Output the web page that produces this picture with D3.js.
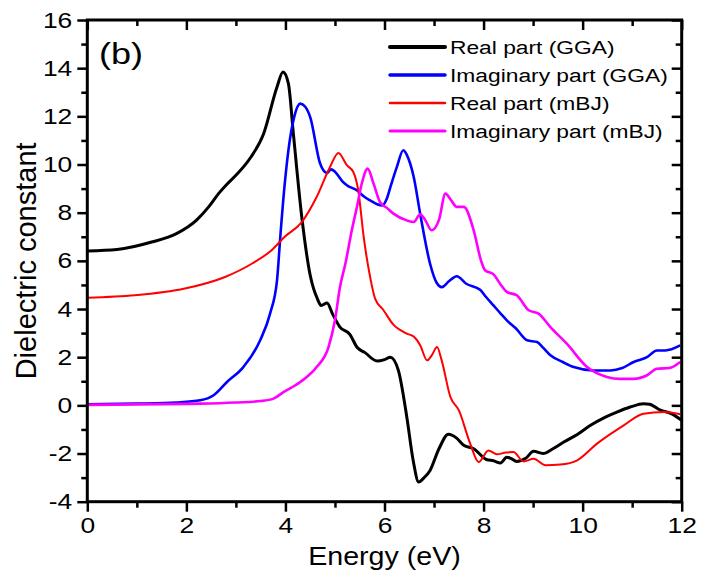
<!DOCTYPE html>
<html><head><meta charset="utf-8">
<script src="https://cdn.jsdelivr.net/npm/d3@7"></script>
<style>body{margin:0;background:#fff}svg{display:block}</style>
</head><body>
<script>
// ---- data ----
const xTicks = [0, 2, 4, 6, 8, 10, 12];
const xMinorTicks = [1, 3, 5, 7, 9, 11];
const yTicks = [-4, -2, 0, 2, 4, 6, 8, 10, 12, 14, 16];
const yMinorTicks = [-3, -1, 1, 3, 5, 7, 9, 11, 13, 15];
const seriesNames = ["Real part (GGA)", "Imaginary part (GGA)", "Real part (mBJ)", "Imaginary part (mBJ)"];
const seriesColors = ["#000000", "#0000ff", "#ff0000", "#ff00ff"];

const realGGA_E = [0, 0.6, 1.3, 1.8, 2.2, 2.45, 2.65, 2.8, 3.0, 3.3, 3.56, 3.83, 3.95, 4.06, 4.16, 4.33, 4.5, 4.65, 4.72, 4.84, 4.95, 5.1, 5.3, 5.45, 5.6, 5.85, 6.0, 6.12, 6.28, 6.45, 6.58, 6.69, 6.8, 6.92, 7.1, 7.29, 7.45, 7.6, 7.8, 8.07, 8.2, 8.34, 8.47, 8.55, 8.67, 8.85, 9.01, 9.2, 9.4, 9.62, 9.9, 10.16, 10.45, 10.69, 10.96, 11.23, 11.35, 11.57, 11.8, 12];
const realGGA_V = [6.41, 6.47, 6.78, 7.13, 7.68, 8.24, 8.79, 9.14, 9.55, 10.3, 11.28, 13.22, 13.84, 13.36, 11.28, 7.82, 5.4, 4.4, 4.15, 4.25, 3.8, 3.25, 2.95, 2.4, 2.2, 1.84, 1.9, 2.0, 1.45, -0.48, -2.3, -3.18, -3.0, -2.7, -1.8, -1.2, -1.35, -1.66, -1.8, -2.26, -2.3, -2.39, -2.15, -2.2, -2.33, -2.2, -1.91, -2.0, -1.8, -1.52, -1.2, -0.83, -0.5, -0.28, -0.07, 0.07, 0.05, -0.2, -0.35, -0.62];

const imagGGA_E = [0, 1, 1.8, 2.28, 2.55, 2.82, 3.15, 3.49, 3.69, 3.83, 3.9, 3.98, 4.06, 4.18, 4.3, 4.4, 4.5, 4.7, 4.84, 4.92, 5.0, 5.15, 5.24, 5.44, 5.6, 5.71, 5.85, 5.95, 6.05, 6.12, 6.25, 6.38, 6.45, 6.59, 6.72, 6.92, 7.05, 7.16, 7.3, 7.46, 7.65, 7.93, 8.05, 8.2, 8.35, 8.47, 8.65, 8.88, 9.08, 9.2, 9.35, 9.6, 9.82, 10.22, 10.56, 10.8, 11.03, 11.3, 11.5, 11.67, 11.97];
const imagGGA_V = [0.04, 0.07, 0.12, 0.21, 0.42, 0.97, 1.59, 2.7, 3.81, 5.19, 7.1, 9.07, 10.59, 12.0, 12.53, 12.4, 11.97, 10.04, 9.65, 9.8, 9.7, 9.3, 9.14, 8.93, 8.65, 8.51, 8.35, 8.3, 8.6, 9.07, 9.9, 10.59, 10.4, 9.48, 7.96, 5.88, 5.1, 4.91, 5.15, 5.36, 5.05, 4.8, 4.5, 4.15, 3.8, 3.53, 3.2, 2.7, 2.63, 2.4, 2.08, 1.8, 1.59, 1.45, 1.45, 1.55, 1.8, 2.0, 2.28, 2.28, 2.49];

const realMBJ_E = [0, 0.96, 1.97, 2.78, 3.32, 3.72, 3.98, 4.33, 4.63, 4.9, 5.07, 5.24, 5.37, 5.47, 5.58, 5.71, 5.81, 5.98, 6.18, 6.45, 6.6, 6.72, 6.86, 6.96, 7.06, 7.15, 7.33, 7.5, 7.73, 7.9, 8.1, 8.27, 8.45, 8.6, 8.81, 9.01, 9.25, 9.55, 9.89, 10.29, 10.83, 11.23, 11.64, 11.97];
const realMBJ_V = [4.47, 4.57, 4.85, 5.33, 5.88, 6.44, 6.99, 7.61, 8.65, 9.9, 10.48, 9.97, 9.69, 8.93, 6.99, 5.33, 4.43, 3.95, 3.35, 2.98, 2.84, 2.5, 1.87, 2.1, 2.42, 1.9, 0.35, -0.2, -1.59, -2.35, -1.87, -2.03, -1.96, -1.94, -2.33, -2.22, -2.49, -2.46, -2.28, -1.59, -0.83, -0.35, -0.28, -0.37];

const imagMBJ_E = [0, 1, 2, 2.28, 3, 3.5, 3.76, 3.96, 4.3, 4.63, 4.87, 5.0, 5.1, 5.21, 5.34, 5.45, 5.54, 5.66, 5.78, 5.91, 6.05, 6.18, 6.45, 6.59, 6.72, 6.82, 6.95, 7.1, 7.23, 7.35, 7.46, 7.6, 7.8, 7.95, 8.03, 8.2, 8.35, 8.47, 8.67, 8.91, 9.11, 9.35, 9.68, 10.09, 10.49, 10.75, 11.03, 11.3, 11.5, 11.75, 11.97];
const imagMBJ_V = [0.02, 0.04, 0.06, 0.07, 0.12, 0.18, 0.28, 0.55, 0.97, 1.59, 2.42, 3.53, 4.9, 5.88, 7.27, 8.3, 9.2, 9.83, 9.2, 8.44, 8.2, 7.96, 7.68, 7.61, 7.93, 7.7, 7.27, 7.7, 8.79, 8.5, 8.24, 8.24, 7.27, 6.0, 5.61, 5.44, 5.0, 4.71, 4.57, 3.95, 3.81, 3.25, 2.56, 1.59, 1.18, 1.1, 1.1, 1.25, 1.52, 1.55, 1.8];

// ---- layout ----
const W = 701, H = 575;
const L = 87.3, R = 681.7, T = 20, B = 501.7;
const FONT = "'Liberation Sans', Arial, sans-serif";
const SX = 1.2; // horizontal text stretch seen in the reference

const svg = d3.select("body").append("svg").attr("width", W).attr("height", H);
const x = d3.scaleLinear().domain([0, 12]).range([L, R]);
const y = d3.scaleLinear().domain([-4, 16]).range([B, T]);

const series = [
  {E: realGGA_E, V: realGGA_V, w: 3},
  {E: imagGGA_E, V: imagGGA_V, w: 2.6},
  {E: realMBJ_E, V: realMBJ_V, w: 2},
  {E: imagMBJ_E, V: imagMBJ_V, w: 2.6}
];
const line = d3.line().x(d => x(d[0])).y(d => y(d[1])).curve(d3.curveMonotoneX);
const plot = svg.append("g");
series.forEach((s, i) => {
  plot.append("path")
    .datum(s.E.map((e, k) => [e, s.V[k]]))
    .attr("d", line).attr("fill", "none")
    .attr("stroke", seriesColors[i]).attr("stroke-width", s.w)
    .attr("stroke-linejoin", "round");
});

function styleAxis(g, fs) {
  g.select(".domain").remove();
  g.selectAll(".tick line").attr("stroke", "#000").attr("stroke-width", 2.5);
  g.selectAll(".tick text").attr("fill", "#000").style("font-family", FONT).style("font-size", fs + "px");
}
function stretchTickText(g) {
  g.selectAll(".tick text").each(function() {
    const t = d3.select(this);
    const tx = +t.attr("x") || 0, ty = +t.attr("y") || 0;
    t.attr("x", 0).attr("y", 0).attr("transform", `translate(${tx},${ty}) scale(${SX},1)`);
  });
}
// bottom
const gb = svg.append("g").attr("transform", `translate(0,${B})`)
  .call(d3.axisBottom(x).tickValues(xTicks).tickSize(10).tickPadding(6).tickFormat(d3.format("d")));
styleAxis(gb, 22); stretchTickText(gb);
const gbm = svg.append("g").attr("transform", `translate(0,${B})`)
  .call(d3.axisBottom(x).tickValues(xMinorTicks).tickSize(6).tickFormat(""));
styleAxis(gbm, 22);
// top
const gt = svg.append("g").attr("transform", `translate(0,${T})`)
  .call(d3.axisTop(x).tickValues(xTicks).tickSize(-10).tickFormat(""));
styleAxis(gt, 22);
const gtm = svg.append("g").attr("transform", `translate(0,${T})`)
  .call(d3.axisTop(x).tickValues(xMinorTicks).tickSize(-6).tickFormat(""));
styleAxis(gtm, 22);
// left
const gl = svg.append("g").attr("transform", `translate(${L},0)`)
  .call(d3.axisLeft(y).tickValues(yTicks).tickSize(10).tickPadding(5).tickFormat(d => d < 0 ? "-" + Math.abs(d) : String(d)));
styleAxis(gl, 22); stretchTickText(gl);
const glm = svg.append("g").attr("transform", `translate(${L},0)`)
  .call(d3.axisLeft(y).tickValues(yMinorTicks).tickSize(6).tickFormat(""));
styleAxis(glm, 22);
// right
const gr = svg.append("g").attr("transform", `translate(${R},0)`)
  .call(d3.axisRight(y).tickValues(yTicks).tickSize(-10).tickFormat(""));
styleAxis(gr, 22);
const grm = svg.append("g").attr("transform", `translate(${R},0)`)
  .call(d3.axisRight(y).tickValues(yMinorTicks).tickSize(-6).tickFormat(""));
styleAxis(grm, 22);

// frame
svg.append("rect").attr("x", L).attr("y", T).attr("width", R - L).attr("height", B - T)
  .attr("fill", "none").attr("stroke", "#000").attr("stroke-width", 3);

// axis titles
svg.append("text").attr("transform", `translate(${(L + R) / 2},565) scale(1.1,1)`).attr("text-anchor", "middle")
  .style("font-family", FONT).style("font-size", "26px").text("Energy (eV)");
svg.append("text").attr("transform", `translate(36,${(T + B) / 2}) rotate(-90)`).attr("text-anchor", "middle")
  .style("font-family", FONT).style("font-size", "29px").text("Dielectric constant");

// panel label
svg.append("text").attr("transform", "translate(99,64) scale(1.2,1)")
  .style("font-family", FONT).style("font-size", "30px").text("(b)");

// legend
const legW = [4, 3.5, 2.5, 3];
const lg = svg.append("g");
seriesNames.forEach((n, i) => {
  const yy = 47 + i * 28;
  lg.append("line").attr("x1", 390).attr("x2", 445).attr("y1", yy).attr("y2", yy)
    .attr("stroke", seriesColors[i]).attr("stroke-width", legW[i]).attr("stroke-linecap", "round");
  lg.append("text").attr("transform", `translate(450,${yy + 7}) scale(${SX},1)`)
    .style("font-family", FONT).style("font-size", "19px").attr("fill", "#000").text(n);
});
</script>
</body></html>
